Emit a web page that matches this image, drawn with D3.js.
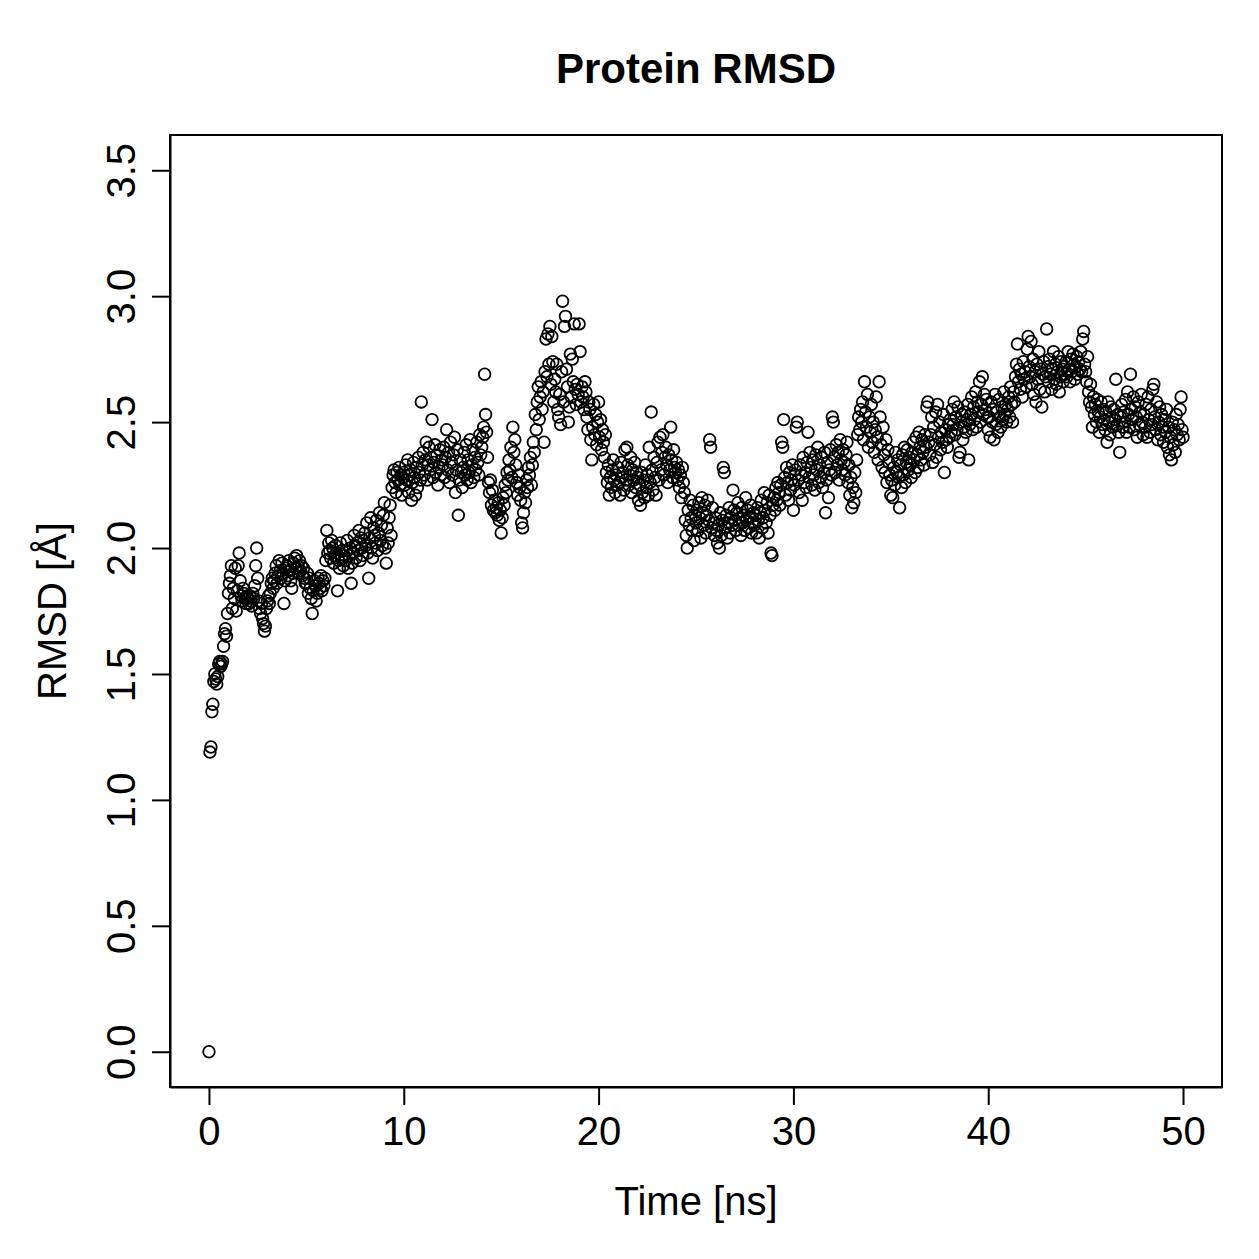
<!DOCTYPE html>
<html>
<head>
<meta charset="utf-8">
<script src="https://cdn.jsdelivr.net/npm/d3@7"></script>
<style>
  body { margin: 0; background: #fff; }
  text { font-family: "Liberation Sans", Arial, Helvetica, sans-serif; }
</style>
</head>
<body>
<div id="rmsd_chart"></div>
<script>
// sampling step of the trajectory, ns
const timeStep = 0.05;

// RMSD values [Å], 20 frames per ns
const rmsd0to10 = [
  0.00, 1.19, 1.21, 1.35, 1.38, 1.47, 1.50, 1.48, 1.46, 1.49, 1.54, 1.55, 1.53, 1.54, 1.55, 1.61, 1.66, 1.68, 1.65, 1.74,
  1.82, 1.86, 1.89, 1.93, 1.76, 1.84, 1.80, 1.92, 1.75, 1.83, 1.93, 1.98, 1.87, 1.81, 1.79, 1.84, 1.82, 1.80, 1.78, 1.81,
  1.80, 1.78, 1.81, 1.79, 1.77, 1.82, 1.80, 1.85, 1.93, 2.00, 1.88, 1.79, 1.76, 1.74, 1.78, 1.72, 1.70, 1.67, 1.69, 1.76,
  1.79, 1.81, 1.78, 1.82, 1.86, 1.88, 1.84, 1.87, 1.90, 1.93, 1.86, 1.89, 1.95, 1.91, 1.88, 1.94, 1.90, 1.78, 1.87, 1.92,
  1.93, 1.89, 1.95, 1.91, 1.87, 1.84, 1.90, 1.94, 1.96, 1.92, 1.97, 1.93, 1.90, 1.95, 1.91, 1.93, 1.89, 1.92, 1.88, 1.86,
  1.86, 1.90, 1.82, 1.88, 1.84, 1.80, 1.74, 1.83, 1.87, 1.85, 1.79, 1.82, 1.88, 1.86, 1.84, 1.89, 1.83, 1.87, 1.85, 1.88,
  1.95, 2.07, 1.98, 2.02, 1.99, 1.96, 2.03, 2.00, 1.94, 1.97, 2.01, 1.98, 1.83, 1.95, 1.92, 2.02, 1.96, 1.99, 1.93, 1.97,
  1.95, 1.99, 2.03, 1.92, 1.97, 2.00, 1.86, 1.94, 1.98, 2.05, 2.01, 1.96, 2.02, 1.99, 2.07, 1.95, 2.04, 2.00, 1.97, 2.03,
  2.06, 2.01, 2.10, 1.98, 1.88, 2.04, 2.12, 2.00, 1.96, 2.08, 2.05, 2.02, 2.11, 1.99, 2.06, 2.14, 2.03, 2.09, 2.01, 2.13,
  2.18, 2.00, 1.94, 2.08, 2.02, 2.12, 2.17, 2.05, 2.24, 2.29, 2.31, 2.26, 2.22, 2.30, 2.27, 2.32, 2.25, 2.29, 2.21, 2.28
];
const rmsd10to20 = [
  2.30, 2.25, 2.33, 2.27, 2.35, 2.22, 2.29, 2.31, 2.19, 2.26, 2.34, 2.28, 2.21, 2.32, 2.24, 2.36, 2.30, 2.27, 2.58, 2.33,
  2.38, 2.29, 2.35, 2.42, 2.27, 2.33, 2.40, 2.31, 2.36, 2.51, 2.28, 2.34, 2.41, 2.30, 2.37, 2.25, 2.32, 2.39, 2.29, 2.35,
  2.33, 2.40, 2.28, 2.36, 2.47, 2.31, 2.38, 2.26, 2.42, 2.34, 2.29, 2.37, 2.44, 2.22, 2.31, 2.39, 2.13, 2.27, 2.35, 2.30,
  2.24, 2.32, 2.38, 2.29, 2.41, 2.27, 2.35, 2.30, 2.43, 2.26, 2.33, 2.39, 2.28, 2.36, 2.31, 2.42, 2.34, 2.29, 2.45, 2.37,
  2.40, 2.44, 2.48, 2.69, 2.53, 2.46, 2.36, 2.26, 2.22, 2.27, 2.17, 2.23, 2.15, 2.19, 2.14, 2.16, 2.13, 2.18, 2.11, 2.15,
  2.06, 2.12, 2.20, 2.17, 2.25, 2.22, 2.30, 2.27, 2.35, 2.31, 2.40, 2.28, 2.48, 2.38, 2.43, 2.33, 2.26, 2.21, 2.29, 2.24,
  2.19, 2.10, 2.08, 2.14, 2.22, 2.18, 2.27, 2.24, 2.32, 2.29, 2.36, 2.25, 2.33, 2.42, 2.38, 2.53, 2.47, 2.58, 2.64, 2.51,
  2.60, 2.66, 2.55, 2.62, 2.42, 2.70, 2.83, 2.68, 2.85, 2.73, 2.88, 2.65, 2.84, 2.74, 2.58, 2.67, 2.62, 2.73, 2.55, 2.52,
  2.61, 2.49, 2.70, 2.98, 2.58, 2.88, 2.92, 2.71, 2.64, 2.50, 2.56, 2.77, 2.60, 2.75, 2.66, 2.89, 2.63, 2.57, 2.65, 2.61,
  2.89, 2.78, 2.58, 2.64, 2.60, 2.55, 2.66, 2.62, 2.52, 2.47, 2.58, 2.55, 2.43, 2.35, 2.48, 2.57, 2.45, 2.53, 2.41, 2.50
];
const rmsd20to30 = [
  2.58, 2.44, 2.51, 2.39, 2.47, 2.42, 2.36, 2.45, 2.30, 2.26, 2.33, 2.21, 2.28, 2.24, 2.31, 2.35, 2.27, 2.22, 2.29, 2.25,
  2.32, 2.26, 2.21, 2.34, 2.28, 2.30, 2.23, 2.39, 2.27, 2.40, 2.33, 2.25, 2.29, 2.36, 2.22, 2.31, 2.27, 2.34, 2.24, 2.30,
  2.28, 2.19, 2.25, 2.17, 2.30, 2.22, 2.27, 2.20, 2.33, 2.24, 2.29, 2.21, 2.40, 2.26, 2.54, 2.31, 2.23, 2.36, 2.28, 2.21,
  2.34, 2.42, 2.27, 2.44, 2.31, 2.38, 2.45, 2.29, 2.36, 2.40, 2.33, 2.26, 2.37, 2.31, 2.48, 2.35, 2.28, 2.39, 2.32, 2.30,
  2.34, 2.27, 2.31, 2.24, 2.29, 2.20, 2.32, 2.26, 2.22, 2.11, 2.05, 2.00, 2.15, 2.09, 2.19, 2.12, 2.07, 2.17, 2.03, 2.13,
  2.10, 2.15, 2.07, 2.18, 2.12, 2.04, 2.20, 2.14, 2.09, 2.17, 2.06, 2.13, 2.19, 2.11, 2.43, 2.40, 2.08, 2.16, 2.10, 2.05,
  2.12, 2.07, 2.02, 2.09, 2.00, 2.14, 2.05, 2.11, 2.32, 2.30, 2.08, 2.13, 2.04, 2.10, 2.16, 2.06, 2.12, 2.09, 2.23, 2.15,
  2.11, 2.07, 2.14, 2.18, 2.09, 2.12, 2.05, 2.16, 2.10, 2.13, 2.07, 2.20, 2.11, 2.15, 2.08, 2.12, 2.17, 2.06, 2.10, 2.14,
  2.09, 2.13, 2.06, 2.16, 2.11, 2.04, 2.14, 2.19, 2.08, 2.12, 2.22, 2.15, 2.10, 2.18, 2.06, 2.21, 2.13, 1.98, 1.97, 2.17,
  2.20, 2.15, 2.24, 2.19, 2.26, 2.22, 2.17, 2.25, 2.42, 2.40, 2.51, 2.28, 2.21, 2.32, 2.26, 2.19, 2.30, 2.23, 2.27, 2.33
];
const rmsd30to40 = [
  2.15, 2.25, 2.31, 2.48, 2.50, 2.27, 2.22, 2.33, 2.29, 2.19, 2.36, 2.26, 2.30, 2.24, 2.34, 2.46, 2.28, 2.38, 2.32, 2.25,
  2.35, 2.29, 2.23, 2.37, 2.31, 2.40, 2.26, 2.33, 2.28, 2.36, 2.24, 2.30, 2.38, 2.14, 2.27, 2.34, 2.20, 2.31, 2.39, 2.29,
  2.52, 2.50, 2.36, 2.30, 2.41, 2.33, 2.38, 2.27, 2.43, 2.35, 2.31, 2.39, 2.34, 2.29, 2.37, 2.42, 2.26, 2.33, 2.21, 2.28,
  2.16, 2.24, 2.18, 2.30, 2.22, 2.35, 2.45, 2.52, 2.47, 2.55, 2.50, 2.58, 2.43, 2.66, 2.54, 2.48, 2.61, 2.40, 2.52, 2.46,
  2.57, 2.42, 2.50, 2.38, 2.47, 2.60, 2.44, 2.35, 2.66, 2.52, 2.41, 2.32, 2.48, 2.37, 2.30, 2.43, 2.26, 2.39, 2.34, 2.29,
  2.21, 2.27, 2.20, 2.32, 2.25, 2.38, 2.30, 2.35, 2.28, 2.16, 2.33, 2.24, 2.37, 2.29, 2.40, 2.26, 2.34, 2.39, 2.31, 2.36,
  2.33, 2.28, 2.38, 2.42, 2.35, 2.30, 2.44, 2.37, 2.32, 2.46, 2.40, 2.35, 2.43, 2.38, 2.33, 2.45, 2.40, 2.56, 2.58, 2.42,
  2.37, 2.45, 2.52, 2.34, 2.48, 2.41, 2.54, 2.36, 2.57, 2.44, 2.50, 2.39, 2.46, 2.42, 2.53, 2.30, 2.47, 2.43, 2.40, 2.49,
  2.44, 2.51, 2.46, 2.55, 2.49, 2.58, 2.45, 2.52, 2.47, 2.56, 2.36, 2.38, 2.50, 2.53, 2.43, 2.48, 2.54, 2.46, 2.51, 2.57,
  2.35, 2.49, 2.53, 2.60, 2.47, 2.56, 2.51, 2.62, 2.48, 2.58, 2.54, 2.66, 2.50, 2.57, 2.68, 2.53, 2.61, 2.55, 2.59, 2.52
];
const rmsd40to50 = [
  2.47, 2.52, 2.44, 2.58, 2.50, 2.55, 2.43, 2.61, 2.49, 2.54, 2.46, 2.59, 2.52, 2.48, 2.56, 2.51, 2.62, 2.53, 2.57, 2.50,
  2.55, 2.60, 2.52, 2.64, 2.57, 2.50, 2.62, 2.58, 2.68, 2.73, 2.81, 2.66, 2.71, 2.63, 2.69, 2.60, 2.74, 2.67, 2.70, 2.64,
  2.79, 2.84, 2.72, 2.68, 2.82, 2.65, 2.75, 2.61, 2.70, 2.58, 2.73, 2.67, 2.78, 2.63, 2.71, 2.56, 2.69, 2.74, 2.62, 2.68,
  2.87, 2.72, 2.66, 2.75, 2.69, 2.63, 2.71, 2.78, 2.67, 2.73, 2.65, 2.70, 2.76, 2.62, 2.68, 2.74, 2.71, 2.66, 2.72, 2.69,
  2.74, 2.68, 2.78, 2.71, 2.66, 2.75, 2.70, 2.77, 2.73, 2.67, 2.72, 2.76, 2.69, 2.74, 2.71, 2.78, 2.70, 2.83, 2.86, 2.73,
  2.70, 2.66, 2.76, 2.62, 2.58, 2.65, 2.56, 2.48, 2.60, 2.53, 2.57, 2.50, 2.59, 2.54, 2.46, 2.52, 2.58, 2.49, 2.55, 2.51,
  2.47, 2.54, 2.42, 2.58, 2.50, 2.45, 2.56, 2.52, 2.48, 2.55, 2.51, 2.67, 2.49, 2.53, 2.46, 2.38, 2.52, 2.57, 2.48, 2.54,
  2.50, 2.59, 2.46, 2.62, 2.53, 2.48, 2.69, 2.55, 2.51, 2.60, 2.47, 2.56, 2.52, 2.44, 2.58, 2.49, 2.54, 2.61, 2.50, 2.45,
  2.53, 2.48, 2.57, 2.44, 2.60, 2.51, 2.46, 2.55, 2.49, 2.63, 2.65, 2.52, 2.47, 2.58, 2.43, 2.50, 2.56, 2.45, 2.53, 2.48,
  2.42, 2.51, 2.46, 2.55, 2.40, 2.48, 2.37, 2.44, 2.35, 2.50, 2.41, 2.47, 2.38, 2.53, 2.45, 2.49, 2.43, 2.55, 2.60, 2.47,
  2.44
];

const xTicks = [0, 10, 20, 30, 40, 50];
const yTicks = [0.0, 0.5, 1.0, 1.5, 2.0, 2.5, 3.0, 3.5];

const rmsd = [].concat(rmsd0to10, rmsd10to20, rmsd20to30, rmsd30to40, rmsd40to50);
const data = rmsd.map(function (v, i) { return { time: i * timeStep, rmsd: v }; });

const width = 1259, height = 1259;
const plotLeft = 170, plotRight = 1222, plotTop = 135, plotBottom = 1087;

const svg = d3.select("#rmsd_chart")
    .append("svg")
    .attr("width", width)
    .attr("height", height);

// R style limits: 4% padding around 0..50 and 0..3.5
const scaleX = d3.scaleLinear()
    .domain([-2, 52])
    .range([plotLeft, plotRight]);

const scaleY = d3.scaleLinear()
    .domain([-0.14, 3.64])
    .range([plotBottom, plotTop]);

let axisX = d3.axisBottom(scaleX)
    .tickValues(xTicks)
    .tickSizeInner(18)
    .tickSizeOuter(0)
    .tickPadding(12)
    .tickFormat(d3.format("d"));

let axisY = d3.axisLeft(scaleY)
    .tickValues(yTicks)
    .tickSizeInner(18)
    .tickSizeOuter(0)
    .tickFormat(d3.format(".1f"));

const gx = svg.append("g")
    .attr("transform", `translate(0, ${plotBottom})`)
    .call(axisX);

const gy = svg.append("g")
    .attr("transform", `translate(${plotLeft}, 0)`)
    .call(axisY);

[gx, gy].forEach(function (g) {
    g.selectAll("path.domain").attr("stroke", "#000").attr("stroke-width", 2);
    g.selectAll(".tick line").attr("stroke", "#000").attr("stroke-width", 2);
    g.selectAll(".tick text")
        .attr("fill", "#000")
        .style("font-size", "40px")
        .style("font-family", "'Liberation Sans', Arial, sans-serif");
});

// y labels are turned, as in R's default las = 0
gy.selectAll(".tick text")
    .attr("x", null)
    .attr("dy", null)
    .attr("transform", "translate(-35, 0) rotate(-90)")
    .attr("text-anchor", "middle");

// frame around the plot region
svg.append("rect")
    .attr("x", plotLeft)
    .attr("y", plotTop)
    .attr("width", plotRight - plotLeft)
    .attr("height", plotBottom - plotTop)
    .attr("fill", "none")
    .attr("stroke", "#000")
    .attr("stroke-width", 2);

svg.selectAll("circle")
    .data(data)
    .enter()
    .append("circle")
    .attr("cx", function (d) { return scaleX(d.time); })
    .attr("cy", function (d) { return scaleY(d.rmsd); })
    .attr("r", 5.8)
    .attr("fill", "none")
    .attr("stroke", "#000")
    .attr("stroke-width", 1.8);

svg.append("text")
    .attr("x", (plotLeft + plotRight) / 2)
    .attr("y", 83)
    .attr("text-anchor", "middle")
    .style("font-size", "42px")
    .style("font-weight", "bold")
    .text("Protein RMSD");

svg.append("text")
    .attr("x", (plotLeft + plotRight) / 2)
    .attr("y", 1215)
    .attr("text-anchor", "middle")
    .style("font-size", "40px")
    .text("Time [ns]");

svg.append("text")
    .attr("transform", `translate(66, ${(plotTop + plotBottom) / 2}) rotate(-90)`)
    .attr("text-anchor", "middle")
    .style("font-size", "40px")
    .text("RMSD [Å]");
</script>
</body>
</html>
